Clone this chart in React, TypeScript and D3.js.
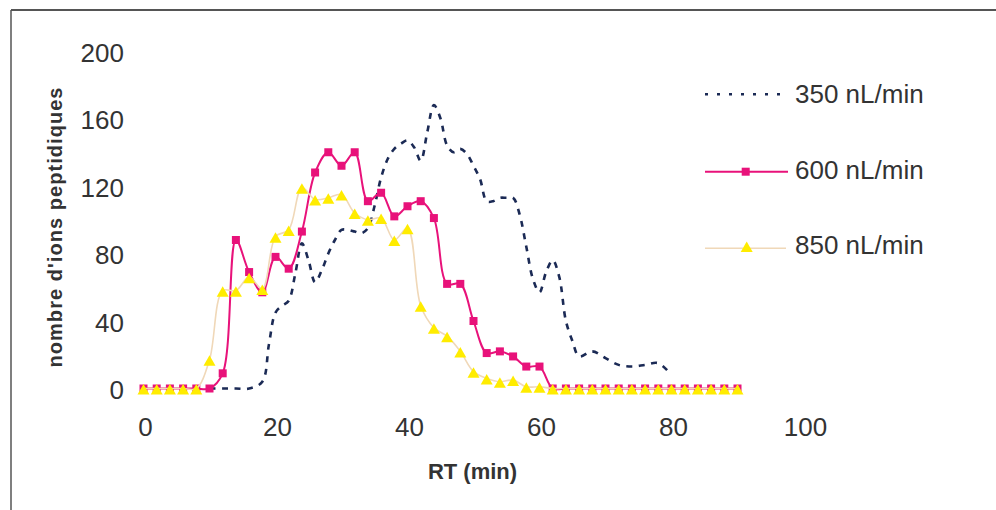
import React from 'react';
import * as d3 from 'd3';

const rtMinutes = [0, 2, 4, 6, 8, 10, 12, 14, 16, 18, 20, 22, 24, 26, 28, 30, 32, 34, 36, 38, 40, 42, 44, 46, 48, 50, 52, 54, 56, 58, 60, 62, 64, 66, 68, 70, 72, 74, 76, 78, 80, 82, 84, 86, 88, 90];
const ions600 = [0, 0, 0, 0, 0, 0, 9, 88, 69, 57, 78, 71, 93, 128, 140, 132, 140, 111, 116, 102, 108, 111, 101, 62, 62, 40, 21, 22, 19, 13, 13, 0, 0, 0, 0, 0, 0, 0, 0, 0, 0, 0, 0, 0, 0, 0];
const ions850 = [0, 0, 0, 0, 0, 17, 58, 58, 66, 59, 90, 94, 119, 112, 113, 115, 104, 100, 101, 88, 95, 49, 36, 31, 22, 10, 6, 4, 5, 1, 1, 0, 0, 0, 0, 0, 0, 0, 0, 0, 0, 0, 0, 0, 0, 0];
const rt350 = [10, 12, 14, 16, 18, 19, 20, 21, 22, 23, 24, 25, 26, 27, 28, 29, 30, 31, 32, 33, 34, 35, 36, 37, 38, 39, 40, 41, 42, 43, 44, 45, 46, 47, 48, 49, 50, 51, 52, 53, 54, 55, 56, 57, 58, 59, 60, 61, 62, 63, 64, 65, 66, 68, 70, 72, 74, 76, 78, 80];
const ions350 = [0, 0, 0, 0, 4, 26, 45, 49, 52, 68, 86, 76, 63, 70, 80, 88, 94, 94, 93, 92, 95, 108, 125, 136, 142, 145, 147, 143, 135, 152, 168, 160, 144, 140, 142, 139, 132, 124, 111, 111, 113, 113, 113, 103, 84, 65, 57, 69, 76, 66, 40, 28, 19, 22, 18, 14, 13, 14, 15, 8];
const xTicks = [0, 20, 40, 60, 80, 100];
const yTicks = [0, 40, 80, 120, 160, 200];
const seriesNames = ['350 nL/min', '600 nL/min', '850 nL/min'];
const xTitle = 'RT (min)';
const yTitle = "nombre d'ions peptidiques";

const NAVY = '#1b2a55';
const PINK = '#e8127a';
const YELLOW = '#ffec00';
const PALE = '#f0d8b8';
const TEXT = '#333333';
const FONT = "'Liberation Sans', Arial, sans-serif";

function tri(cx: number, cy: number) {
  return `M${cx},${cy - 4.5}L${cx + 6},${cy + 6}L${cx - 6},${cy + 6}Z`;
}

export default function App() {
  const x = d3.scaleLinear().domain([0, 100]).range([143.5, 803.5]);
  const y = d3.scaleLinear().domain([0, 200]).range([388.5, 51]);
  const curve = d3.curveCatmullRom.alpha(0.5);
  const line = d3
    .line<[number, number]>()
    .x((d) => x(d[0]))
    .y((d) => y(d[1]))
    .curve(curve);

  const d350 = rt350.map((t, i) => [t, ions350[i]] as [number, number]);
  const d600 = rtMinutes.map((t, i) => [t, ions600[i]] as [number, number]);
  const d850 = rtMinutes.map((t, i) => [t, ions850[i]] as [number, number]);

  return (
    <svg
      width={996}
      height={510}
      style={{ position: 'absolute', left: 0, top: 0, background: '#fff' }}
      fontFamily={FONT}
    >
      <rect x={0} y={0} width={996} height={510} fill="#fff" />
      <line x1={11} y1={10} x2={996} y2={10} stroke="#555" strokeWidth={2} />
      <line x1={11} y1={10} x2={11} y2={510} stroke="#555" strokeWidth={1.5} />

      {yTicks.map((v) => (
        <text key={'y' + v} x={124} y={y(v) + 1.5} dy="0.35em" textAnchor="end" fontSize={26} fill={TEXT}>
          {v}
        </text>
      ))}
      {xTicks.map((v) => (
        <text key={'x' + v} x={x(v) + 2} y={427} dy="0.35em" textAnchor="middle" fontSize={26} fill={TEXT}>
          {v}
        </text>
      ))}
      <text x={472.5} y={471.5} dy="0.35em" textAnchor="middle" fontSize={22} fontWeight="bold" fill={TEXT}>
        {xTitle}
      </text>
      <text
        transform="translate(55,227.5) rotate(-90)"
        dy="0.35em"
        textAnchor="middle"
        fontSize={20}
        fontWeight="bold"
        fill={TEXT}
        textLength={280}
        lengthAdjust="spacing"
      >
        {yTitle}
      </text>

      <path d={line(d350) || ''} fill="none" stroke={NAVY} strokeWidth={2.6} strokeDasharray="6,6.5" />

      <path d={line(d600) || ''} fill="none" stroke={PINK} strokeWidth={2} />
      {d600.map((d, i) => (
        <rect key={'p' + i} x={x(d[0]) - 4} y={y(d[1]) - 4} width={8} height={8} fill={PINK} />
      ))}

      <path d={line(d850) || ''} fill="none" stroke={PALE} strokeWidth={1.6} />
      {d850.map((d, i) => (
        <path key={'t' + i} d={tri(x(d[0]), y(d[1]))} fill={YELLOW} />
      ))}

      <line x1={705} y1={94.3} x2={786} y2={94.3} stroke={NAVY} strokeWidth={2.4} strokeDasharray="3,9" />
      <text x={795} y={93.5} dy="0.35em" fontSize={26} fill={TEXT}>{seriesNames[0]}</text>

      <line x1={705} y1={171.7} x2={788} y2={171.7} stroke={PINK} strokeWidth={2} />
      <rect x={745.7 - 4} y={171.7 - 4} width={8} height={8} fill={PINK} />
      <text x={795} y={169.5} dy="0.35em" fontSize={26} fill={TEXT}>{seriesNames[1]}</text>

      <line x1={705} y1={248.3} x2={786} y2={248.3} stroke={PALE} strokeWidth={1.6} />
      <path d={tri(746.7, 246)} fill={YELLOW} />
      <text x={795} y={244.5} dy="0.35em" fontSize={26} fill={TEXT}>{seriesNames[2]}</text>
    </svg>
  );
}
